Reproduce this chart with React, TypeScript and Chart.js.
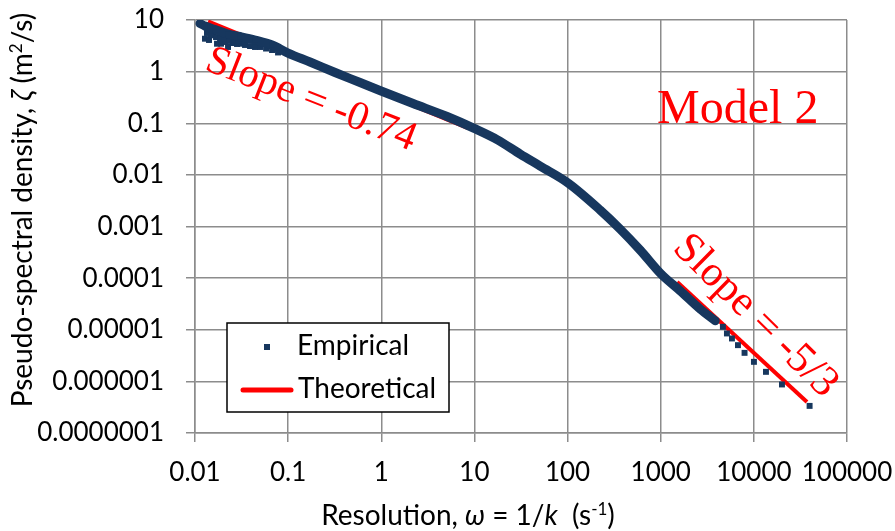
import React, { useEffect, useRef } from "react";
import { Chart, registerables } from "chart.js";

Chart.register(...registerables);

// ---------- data ----------
const seriesNames = ["Empirical", "Theoretical"];

// dense part of the empirical spectrum (centre of the band)
const empiricalX = [
  0.01132, 0.0128, 0.0164, 0.02262, 0.03044, 0.04409, 0.06716, 0.0997, 0.1718,
  0.3191, 0.592, 0.995, 2.196, 5.09, 9.93, 17.5, 31.0, 50.8, 101.5, 224, 367,
  602, 1012, 1620, 2656, 3849,
];
const empiricalY = [
  8.55, 7.65, 6.54, 5.35, 4.79, 4.1, 3.28, 2.29, 1.535, 0.961, 0.615, 0.421,
  0.241, 0.135, 0.0796, 0.0483, 0.0253, 0.0148, 0.00694, 0.00208, 0.000891,
  0.000349, 0.0001195, 0.0000567, 0.0000251, 0.0000149,
];

// scattered empirical points at low resolution
const scatterX = [
  0.0128, 0.01414, 0.01561, 0.01723, 0.01903, 0.02101, 0.02262, 0.0256, 0.02826,
  0.0312, 0.03444, 0.03899, 0.04409, 0.04991, 0.0579, 0.06716, 0.07788, 0.01345,
  0.01485, 0.01681, 0.01856, 0.02049, 0.02318, 0.02624, 0.02897, 0.0336,
];
const scatterY = [
  4.34, 4.1, 5.05, 3.47, 3.47, 3.75, 3.0, 3.58, 3.43, 3.47, 3.28, 3.13, 3.0, 3.0,
  2.8, 2.62, 2.35, 5.6, 5.12, 4.68, 4.48, 4.38, 3.92, 4.1, 3.92, 3.75,
];

// sparse empirical points at high resolution
const tailX = [4650, 5140, 5818, 6749, 7945, 10020, 13490, 20035, 39670];
const tailY = [
  1.14e-5, 8.48e-6, 6.78e-6, 5.03e-6, 3.57e-6, 2.39e-6, 1.53e-6, 8.71e-7, 3.35e-7,
];

// theoretical power laws (slope -0.74 and -5/3)
const theoryLowX = [0.0138, 8.56];
const theoryLowY = [9.4, 0.0806];
const theoryHighX = [1503, 37190];
const theoryHighY = [8.4e-5, 4.0e-7];

const xTickValues = [0.01, 0.1, 1, 10, 100, 1000, 10000, 100000];
const xTickLabels = ["0.01", "0.1", "1", "10", "100", "1000", "10000", "100000"];
const yTickValues = [1e-7, 1e-6, 1e-5, 1e-4, 1e-3, 1e-2, 0.1, 1, 10];
const yTickLabels = [
  "0.0000001", "0.000001", "0.00001", "0.0001", "0.001", "0.01", "0.1", "1", "10",
];

// ---------- styles ----------
const NAVY = "#17375E";
const RED = "#FF0000";
const GRID = "#8C8C8C";
const SANS = "Lato";
const SERIF = "'Liberation Serif'";

const pts = (xs: number[], ys: number[]) => xs.map((x, i) => ({ x, y: ys[i] }));

const labelFor = (values: number[], labels: string[]) => (v: number | string) => {
  const n = Number(v);
  let best = 0;
  for (let i = 1; i < values.length; i++) {
    if (Math.abs(Math.log10(values[i]) - Math.log10(n)) < Math.abs(Math.log10(values[best]) - Math.log10(n))) best = i;
  }
  return labels[best];
};

type Piece = { t: string; italic?: boolean; sup?: boolean };

function drawPieces(ctx: CanvasRenderingContext2D, pieces: Piece[], size: number) {
  const fontOf = (p: Piece) =>
    `${p.italic ? "italic " : ""}${p.sup ? Math.round(size * 0.62) : size}px ${SANS}`;
  const widths = pieces.map((p) => {
    ctx.font = fontOf(p);
    return ctx.measureText(p.t).width;
  });
  const total = widths.reduce((a, b) => a + b, 0);
  let x = -total / 2;
  pieces.forEach((p, i) => {
    ctx.font = fontOf(p);
    ctx.fillText(p.t, x, p.sup ? -size * 0.36 : 0);
    x += widths[i];
  });
}

const xTitle: Piece[] = [
  { t: "Resolution, " },
  { t: "ω", italic: true },
  { t: " = 1/" },
  { t: "k", italic: true },
  { t: "  (s" },
  { t: "-1", sup: true },
  { t: ")" },
];
const yTitle: Piece[] = [
  { t: "Pseudo-spectral density, " },
  { t: "ζ", italic: true },
  { t: " (m" },
  { t: "2", sup: true },
  { t: "/s)" },
];

const zeroPad = (s: any) => {
  s.paddingTop = 0;
  s.paddingBottom = 0;
  s.paddingLeft = 0;
  s.paddingRight = 0;
};

const decorPlugin = {
  id: "decor",
  afterDatasetsDraw(chart: any) {
    const { ctx, scales } = chart;
    const xs = scales.x;
    const ys = scales.y;
    ctx.save();
    ctx.fillStyle = RED;
    ctx.textAlign = "center";
    ctx.textBaseline = "alphabetic";
    ctx.font = `48px ${SERIF}`;
    ctx.fillText("Model 2", xs.getPixelForValue(6714), ys.getPixelForValue(0.102));

    const rot = (text: string, vx: number, vy: number, deg: number, size: number) => {
      ctx.save();
      ctx.translate(xs.getPixelForValue(vx), ys.getPixelForValue(vy));
      ctx.rotate((deg * Math.PI) / 180);
      ctx.font = `${size}px ${SERIF}`;
      ctx.textBaseline = "middle";
      ctx.fillText(text, 0, 0);
      ctx.restore();
    };
    rot("Slope = -0.74", 0.176, 0.282, 21.5, 41);
    rot("Slope = -5/3", 10350, 1.84e-5, 44.5, 43);
    ctx.restore();
  },
  afterDraw(chart: any) {
    const { ctx, chartArea } = chart;
    ctx.save();
    // legend box
    const lx = chartArea.left + 32;
    const ly = chartArea.top + 303;
    ctx.fillStyle = "#FFFFFF";
    ctx.fillRect(lx, ly, 222, 89);
    ctx.strokeStyle = "#000000";
    ctx.lineWidth = 1.5;
    ctx.strokeRect(lx, ly, 222, 89);
    ctx.fillStyle = NAVY;
    ctx.fillRect(lx + 37, ly + 21, 6, 6);
    ctx.strokeStyle = RED;
    ctx.lineWidth = 5;
    ctx.lineCap = "round";
    ctx.beginPath();
    ctx.moveTo(lx + 16, ly + 67);
    ctx.lineTo(lx + 64, ly + 67);
    ctx.stroke();
    ctx.fillStyle = "#000000";
    ctx.font = `28px ${SANS}`;
    ctx.textAlign = "left";
    ctx.textBaseline = "middle";
    ctx.fillText(seriesNames[0], lx + 70, ly + 23);
    ctx.fillText(seriesNames[1], lx + 71, ly + 66);

    // axis titles
    ctx.textAlign = "left";
    ctx.textBaseline = "alphabetic";
    ctx.save();
    ctx.translate(468, 525);
    drawPieces(ctx, xTitle, 28);
    ctx.restore();
    ctx.save();
    ctx.translate(32, 210);
    ctx.rotate(-Math.PI / 2);
    drawPieces(ctx, yTitle, 28);
    ctx.restore();
    ctx.restore();
  },
};

export default function App() {
  const ref = useRef<HTMLCanvasElement>(null);
  useEffect(() => {
    if (!ref.current) return;
    const chart = new Chart(ref.current, {
      type: "scatter",
      data: {
        datasets: [
          {
            label: seriesNames[0],
            data: pts(empiricalX, empiricalY),
            showLine: true,
            borderColor: NAVY,
            backgroundColor: NAVY,
            borderWidth: 9,
            borderCapStyle: "round",
            borderJoinStyle: "round",
            cubicInterpolationMode: "monotone",
            pointStyle: "rect",
            pointRadius: 4.2,
            pointBorderWidth: 0,
          },
          {
            label: seriesNames[0] + " (scatter)",
            data: pts(scatterX, scatterY),
            showLine: false,
            backgroundColor: NAVY,
            borderColor: NAVY,
            pointStyle: "rect",
            pointRadius: 4.2,
            pointBorderWidth: 0,
          },
          {
            label: seriesNames[0] + " (tail)",
            data: pts(tailX, tailY),
            showLine: false,
            backgroundColor: NAVY,
            borderColor: NAVY,
            pointStyle: "rect",
            pointRadius: 4.2,
            pointBorderWidth: 0,
          },
          {
            label: seriesNames[1],
            data: pts(theoryLowX, theoryLowY),
            showLine: true,
            borderColor: RED,
            backgroundColor: RED,
            borderWidth: 4,
            pointRadius: 0,
          },
          {
            label: seriesNames[1] + " (2)",
            data: pts(theoryHighX, theoryHighY),
            showLine: true,
            borderColor: RED,
            backgroundColor: RED,
            borderWidth: 4,
            pointRadius: 0,
          },
        ],
      },
      options: {
        responsive: false,
        animation: false,
        devicePixelRatio: 1,
        layout: { padding: { top: 20, right: 48, left: 0, bottom: 0 } },
        plugins: { legend: { display: false }, tooltip: { enabled: false } },
        scales: {
          x: {
            type: "logarithmic",
            position: "bottom",
            min: 0.01,
            max: 100000,
            afterBuildTicks: (s: any) => {
              s.ticks = xTickValues.map((v) => ({ value: v }));
            },
            afterFit: (s: any) => {
              s.height = 98;
              zeroPad(s);
            },
            ticks: {
              callback: labelFor(xTickValues, xTickLabels),
              autoSkip: false,
              maxRotation: 0,
              color: "#000000",
              padding: 15,
              font: { family: SANS, size: 26 },
            },
            grid: { color: GRID, lineWidth: 1.5, tickLength: 9, tickColor: GRID },
            border: { color: GRID, width: 1.5 },
          },
          y: {
            type: "logarithmic",
            position: "left",
            min: 1e-7,
            max: 10,
            afterBuildTicks: (s: any) => {
              s.ticks = yTickValues.map((v) => ({ value: v }));
            },
            afterFit: (s: any) => {
              s.width = 195;
              zeroPad(s);
            },
            ticks: {
              callback: labelFor(yTickValues, yTickLabels),
              autoSkip: false,
              color: "#000000",
              padding: 22,
              font: { family: SANS, size: 26 },
            },
            grid: { color: GRID, lineWidth: 1.5, tickLength: 9, tickColor: GRID },
            border: { color: GRID, width: 1.5 },
          },
        },
      },
      plugins: [decorPlugin],
    } as any);
    return () => chart.destroy();
  }, []);
  return (
    <div style={{ position: "absolute", left: 0, top: 0, width: 895, height: 531, background: "#FFFFFF" }}>
      <canvas ref={ref} width={895} height={531} style={{ display: "block" }} />
    </div>
  );
}
